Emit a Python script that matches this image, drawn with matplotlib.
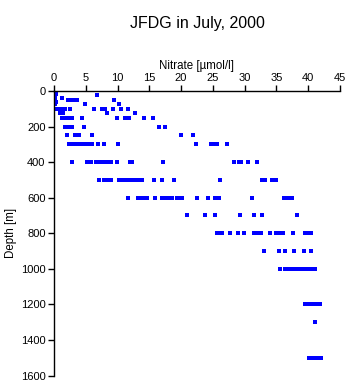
import matplotlib
matplotlib.use("Agg")
import matplotlib.pyplot as plt
import numpy as np

plt.rcParams['font.family'] = ['Liberation Sans', 'DejaVu Sans']

# (depth [m], nitrate [umol/l]) readings grouped by sampling depth
d_surface = [0, 5, 10, 15, 20, 30, 40, 50, 60, 65]
n_surface = [0.1, 0.2, 0.0, 0.3, 0.1, 0.0, 0.2, 0.0, 0.3, 0.1]

d25 = [24]; n25 = [6.8]
d50 = [41, 50, 50, 50, 50, 50]; n50 = [1.2, 2.2, 2.6, 3.0, 3.6, 9.5]
d75 = [75, 75, 75]; n75 = [4.9, 10.3, 0.1]
n100 = [0.0, 0.3, 0.6, 1.0, 1.4, 1.7, 2.5, 6.3, 7.5, 8.0, 9.3, 10.5, 11.6]
n125 = [0.9, 1.2, 1.5, 8.4, 12.7]
n150 = [1.2, 1.6, 2.0, 2.4, 2.8, 4.4, 9.9, 11.2, 11.8, 14.2, 15.6]
n200 = [1.8, 2.2, 2.5, 2.9, 4.7, 16.6, 17.4]
n250 = [2.0, 3.3, 3.6, 3.9, 6.0, 20.0, 21.9]
n300 = [2.3, 2.9, 3.3, 3.7, 4.1, 4.6, 4.9, 5.2, 5.8, 6.0, 6.9, 7.9, 10.1,
        22.3, 24.7, 25.4, 25.6, 27.3]
n400 = [2.8, 5.2, 5.5, 5.8, 6.6, 7.0, 7.4, 7.8, 8.2, 8.6, 9.0, 9.9, 11.9,
        12.3, 17.2, 28.4, 29.1, 29.5, 30.5, 31.9]
n500 = [7.1, 7.8, 8.5, 8.9, 10.2, 10.5, 10.8, 11.5, 11.8, 12.2, 12.8, 13.4,
        13.8, 15.8, 17.0, 18.9, 26.2, 32.7, 33.2, 34.3, 34.9]
n600 = [11.6, 13.3, 13.8, 14.2, 14.7, 15.9, 17.0, 17.5, 18.0, 18.6, 19.3,
        19.7, 20.1, 22.5, 24.3, 25.3, 25.6, 26.0, 31.1, 36.2, 36.7, 37.1, 37.5]
n700 = [21.0, 23.8, 25.4, 29.3, 31.4, 32.8, 38.3]
n800 = [25.6, 26.0, 26.5, 27.7, 29.0, 29.9, 31.4, 31.8, 32.2, 32.6, 34.0,
        35.0, 35.5, 36.0, 37.6, 39.5, 40.0, 40.5]
n900 = [33.1, 35.4, 36.3, 37.8, 39.3, 40.4]
n1000 = [35.6, 36.4, 37.0, 37.3, 37.6, 37.9, 38.3, 38.7, 39.1, 39.5, 39.9,
         40.3, 40.7, 41.1]
n1200 = [39.5, 39.9, 40.3, 40.7, 41.1, 41.5, 41.8]
n1300 = [41.1]
n1500 = [40.1, 40.4, 40.8, 41.2, 41.6, 42.0]

levels = {100: n100, 125: n125, 150: n150, 200: n200, 250: n250, 300: n300,
          400: n400, 500: n500, 600: n600, 700: n700, 800: n800, 900: n900,
          1000: n1000, 1200: n1200, 1300: n1300, 1500: n1500}

depth = list(d_surface) + d25 + d50 + d75
nitrate = list(n_surface) + n25 + n50 + n75
for d, vals in levels.items():
    depth += [d] * len(vals)
    nitrate += vals

xticks = [0, 5, 10, 15, 20, 25, 30, 35, 40, 45]
yticks = [0, 200, 400, 600, 800, 1000, 1200, 1400, 1600]

fig = plt.figure(figsize=(3.48, 3.84), dpi=100)
ax = fig.add_axes([0.155, 0.022, 0.822, 0.741])
ax.plot(nitrate, depth, linestyle='none', marker='s', markersize=2.2,
        color='#0000ff', markeredgewidth=0)

ax.set_xlim(0, 45)
ax.set_ylim(1600, 0)
ax.set_xticks(xticks)
ax.set_yticks(yticks)
ax.xaxis.tick_top()
ax.xaxis.set_label_position('top')
ax.spines['right'].set_visible(False)
ax.spines['bottom'].set_visible(False)
ax.spines['top'].set_linewidth(1.0)
ax.spines['left'].set_linewidth(1.0)
ax.tick_params(direction='out', length=4, width=1.0, labelsize=8, pad=2)
ax.set_xlabel('Nitrate [µmol/l]', fontsize=8.3, labelpad=3)
ax.set_ylabel('Depth [m]', fontsize=8.3, labelpad=3)
fig.text(0.567, 0.94, 'JFDG in July, 2000', ha='center', va='center', fontsize=11.5)

fig.savefig('out.png', dpi=100)
